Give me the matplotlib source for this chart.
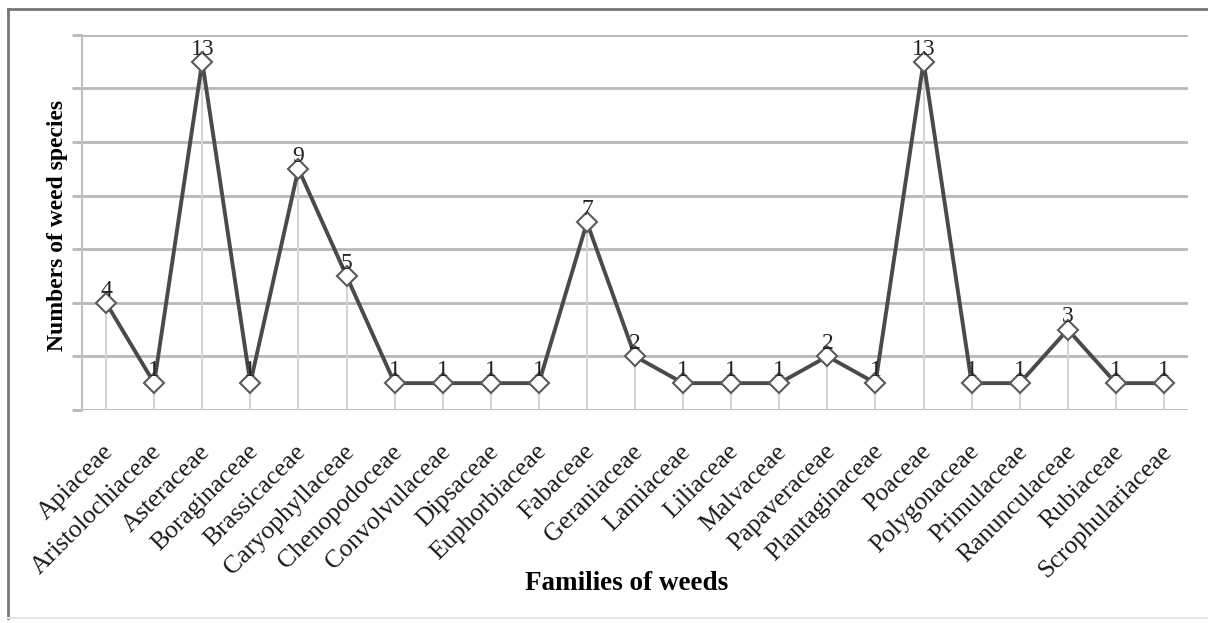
import numpy as np
import matplotlib.pyplot as plt
import matplotlib.transforms as mtransforms

families = ["Apiaceae", "Aristolochiaceae", "Asteraceae", "Boraginaceae",
            "Brassicaceae", "Caryophyllaceae", "Chenopodoceae", "Convolvulaceae",
            "Dipsaceae", "Euphorbiaceae", "Fabaceae", "Geraniaceae", "Lamiaceae",
            "Liliaceae", "Malvaceae", "Papaveraceae", "Plantaginaceae", "Poaceae",
            "Polygonaceae", "Primulaceae", "Ranunculaceae", "Rubiaceae",
            "Scrophulariaceae"]
species_counts = [4, 1, 13, 1, 9, 5, 1, 1, 1, 1, 7, 2, 1, 1, 1, 2, 1, 13, 1, 1, 3, 1, 1]
y_gridlines = [0, 2, 4, 6, 8, 10, 12, 14]

plt.rcParams['font.family'] = ['Liberation Serif', 'DejaVu Serif']

fig = plt.figure(figsize=(12.08, 6.23), dpi=100)
ax = fig.add_axes([0.0679, 0.342, 0.9156, 0.602])

x = np.arange(len(families))

# drop lines from each point to the axis
ax.vlines(x, 0, species_counts, color="#d4d4d4", lw=1.5, zorder=1)

ax.plot(x, species_counts, color="#4a4a4a", lw=2.8, marker="D", markersize=10.5,
        markerfacecolor="white", markeredgecolor="#5a5a5a", markeredgewidth=1.5,
        zorder=3)

for xi, v in zip(x, species_counts):
    ax.annotate(str(v), (xi, v), xytext=(0, 1.5), textcoords="offset points",
                ha="center", va="bottom", fontsize=17, color="#222222", zorder=4)

ax.set_xlim(-0.5, len(families) - 0.5)
ax.set_ylim(0, 14)
ax.set_yticks(y_gridlines)
ax.set_yticklabels([])
ax.yaxis.grid(True, color="#b8b8b8", lw=2)
ax.set_axisbelow(True)
ax.tick_params(axis="y", length=7, width=2, color="#b8b8b8")
ax.tick_params(axis="x", length=0, pad=22)

for s in ["top", "right", "bottom"]:
    ax.spines[s].set_visible(False)
ax.spines["left"].set_color("#c0c0c0")
ax.spines["left"].set_linewidth(1.5)

ax.set_xticks(x)
ax.set_xticklabels(families, rotation=45, ha="right", va="top", fontsize=18.5,
                   color="#1a1a1a")
offset = mtransforms.ScaledTranslation(12 / 100, 0, fig.dpi_scale_trans)
for lab in ax.get_xticklabels():
    lab.set_transform(lab.get_transform() + offset)

fig.text(0.519, 1 - 583 / 623, "Families of weeds", ha="center", va="center",
         fontsize=19.5, fontweight="bold")
fig.text(58 / 1208, 1 - 225 / 623, "Numbers of weed species", ha="center",
         va="center", rotation=90, fontsize=17, fontweight="bold")

# outer chart frame
fig.add_artist(plt.Line2D([8 / 1208, 8 / 1208], [1 - 9 / 623, 1 - 618 / 623],
                          transform=fig.transFigure, color="#777777", lw=2))
fig.add_artist(plt.Line2D([8 / 1208, 1], [1 - 9 / 623, 1 - 9 / 623],
                          transform=fig.transFigure, color="#777777", lw=2))
fig.add_artist(plt.Line2D([8 / 1208, 1], [1 - 618 / 623, 1 - 618 / 623],
                          transform=fig.transFigure, color="#e6e6e6", lw=1.5))

fig.savefig("out.png", dpi=100)
